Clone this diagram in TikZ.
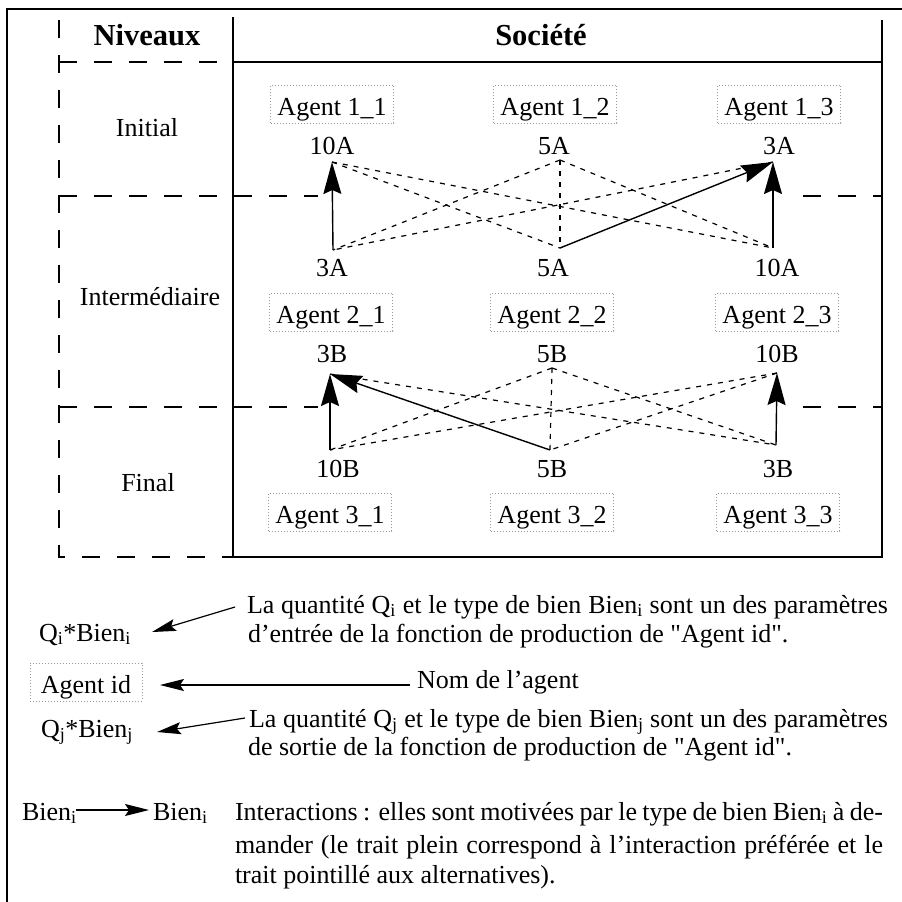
\documentclass[tikz,border=0pt]{standalone}
\usepackage{fontspec}
\setmainfont{Liberation Serif}[Ligatures=TeXOff]
\usetikzlibrary{arrows.meta}

\begin{document}
\begin{tikzpicture}[x=1pt,y=-1pt,
  every node/.style={inner sep=0pt, outer sep=0pt},
  txt/.style={font=\fontsize{26}{29}\selectfont, anchor=base},
  lefttxt/.style={txt, anchor=base west},
  head/.style={font=\fontsize{30.5}{34}\selectfont\bfseries, anchor=base},
  agent/.style={txt, draw=black!40, dash pattern=on 1pt off 2pt, line width=0.8pt,
    minimum width=123pt, text height=30pt, text depth=8pt},
  frame/.style={line width=2.2pt},
  level/.style={dash pattern=on 18pt off 17pt, line width=1.3pt},
  alt/.style={dash pattern=on 5pt off 6pt, line width=1.2pt},
  pref/.style={line width=1.4pt, -{Stealth[length=32pt,width=18pt,inset=4pt]}},
  key/.style={line width=1.2pt, -{Stealth[length=24pt,width=12pt,inset=4pt]}},
]
\useasboundingbox (0,0) rectangle (902,902);

% outer frame
\draw[frame] (7,902) -- (7,9) -- (902,9);

% table: levels column and society box
\draw[frame] (233,17) -- (233,557) -- (882,557) -- (882,20);
\draw[frame] (233,62) -- (882,62);
\draw[level] (59,20) -- (59,557) -- (233,557);
\draw[level] (59,62) -- (233,62);
\draw[level] (59,196) -- (318,196);
\draw[level] (803,196) -- (882,196);
\draw[level] (59,407) -- (318,407);
\draw[level] (803,407) -- (882,407);

\node[head] (hniv) at (147,45) {Niveaux};
\node[head] (hsoc) at (541,45) {Société};
\node[txt] (lini) at (147,136) {Initial};
\node[txt] (lint) at (150,305) {Intermédiaire};
\node[txt] (lfin) at (148,491) {Final};

% agents
\node[agent] (a11) at (332,115) {Agent 1\_1};
\node[agent] (a12) at (555,115) {Agent 1\_2};
\node[agent] (a13) at (779,115) {Agent 1\_3};
\node[agent] (a21) at (331,323) {Agent 2\_1};
\node[agent] (a22) at (552,323) {Agent 2\_2};
\node[agent] (a23) at (777,323) {Agent 2\_3};
\node[agent] (a31) at (330,523) {Agent 3\_1};
\node[agent] (a32) at (552,523) {Agent 3\_2};
\node[agent] (a33) at (778,523) {Agent 3\_3};

% quantities
\node[txt] (q11) at (332,154) {10A};
\node[txt] (q12) at (554,154) {5A};
\node[txt] (q13) at (779,154) {3A};
\node[txt] (r11) at (332,276) {3A};
\node[txt] (r12) at (553,276) {5A};
\node[txt] (r13) at (777,276) {10A};
\node[txt] (q21) at (332,362) {3B};
\node[txt] (q22) at (552,362) {5B};
\node[txt] (q23) at (777,362) {10B};
\node[txt] (r21) at (338,477) {10B};
\node[txt] (r22) at (552,477) {5B};
\node[txt] (r23) at (778,477) {3B};

% interaction end points
\coordinate (u1) at (332,162);
\coordinate (u2) at (560,160);
\coordinate (u3) at (773,162);
\coordinate (d1) at (333,250);
\coordinate (d2) at (560,248);
\coordinate (d3) at (773,248);
\coordinate (s1) at (330,374);
\coordinate (s2) at (552,368);
\coordinate (s3) at (777,373);
\coordinate (t1) at (330,450);
\coordinate (t2) at (550,450);
\coordinate (t3) at (776,445);

% alternatives (dashed) and preferred interactions (solid)
\draw[alt] (u1) -- (d2);
\draw[alt] (u1) -- (d3);
\draw[alt] (u2) -- (d1);
\draw[alt] (u2) -- (d2);
\draw[alt] (u2) -- (d3);
\draw[alt] (u3) -- (d1);
\draw[pref] (d1) -- (u1);
\draw[pref] (d2) -- (u3);
\draw[pref] (d3) -- (u3);

\draw[alt] (s1) -- (t3);
\draw[alt] (s2) -- (t1);
\draw[alt] (s2) -- (t2);
\draw[alt] (s2) -- (t3);
\draw[alt] (s3) -- (t1);
\draw[alt] (s3) -- (t2);
\draw[pref] (t1) -- (s1);
\draw[pref] (t2) -- (s1);
\draw[pref] (t3) -- (s3);

% key
\node[txt] (kqi) at (85,641) {Q\textsubscript{i}*Bien\textsubscript{i}};
\node[agent, minimum width=112pt] (kid) at (86,693) {Agent id};
\node[txt] (kqj) at (87,737) {Q\textsubscript{j}*Bien\textsubscript{j}};
\node[lefttxt] (kba) at (22,820) {Bien\textsubscript{i}};
\node[lefttxt] (kbb) at (153,820) {Bien\textsubscript{i}};

\node[lefttxt] (e1a) at (247,613) {\makebox[641pt][s]{La quantité Q\textsubscript{i} et le type de bien Bien\textsubscript{i} sont un des paramètres}};
\node[lefttxt] (e1b) at (248,642) {d’entrée de la fonction de production de "Agent id".};
\node[lefttxt] (e2) at (417,688) {Nom de l’agent};
\node[lefttxt] (e3a) at (249,727) {\makebox[639pt][s]{La quantité Q\textsubscript{j} et le type de bien Bien\textsubscript{j} sont un des paramètres}};
\node[lefttxt] (e3b) at (248,755) {de sortie de la fonction de production de "Agent id".};
\node[lefttxt] (e4a) at (235,820) {\makebox[648pt][s]{Interactions : elles sont motivées par le type de bien Bien\textsubscript{i} à de-}};
\node[lefttxt] (e4b) at (235,853) {\makebox[648pt][s]{mander (le trait plein correspond à l’interaction préférée et le}};
\node[lefttxt] (e4c) at (235,883) {trait pointillé aux alternatives).};

\coordinate (k1s) at (235,607);
\coordinate (k1e) at (152,632);
\coordinate (k2s) at (410,685);
\coordinate (k2e) at (160,685);
\coordinate (k3s) at (245,718);
\coordinate (k3e) at (157,732);
\coordinate (k4s) at (76,810);
\coordinate (k4e) at (149,810);
\draw[key] (k1s) -- (k1e);
\draw[key] (k2s) -- (k2e);
\draw[key] (k3s) -- (k3e);
\draw[key] (k4s) -- (k4e);
\end{tikzpicture}
\end{document}
